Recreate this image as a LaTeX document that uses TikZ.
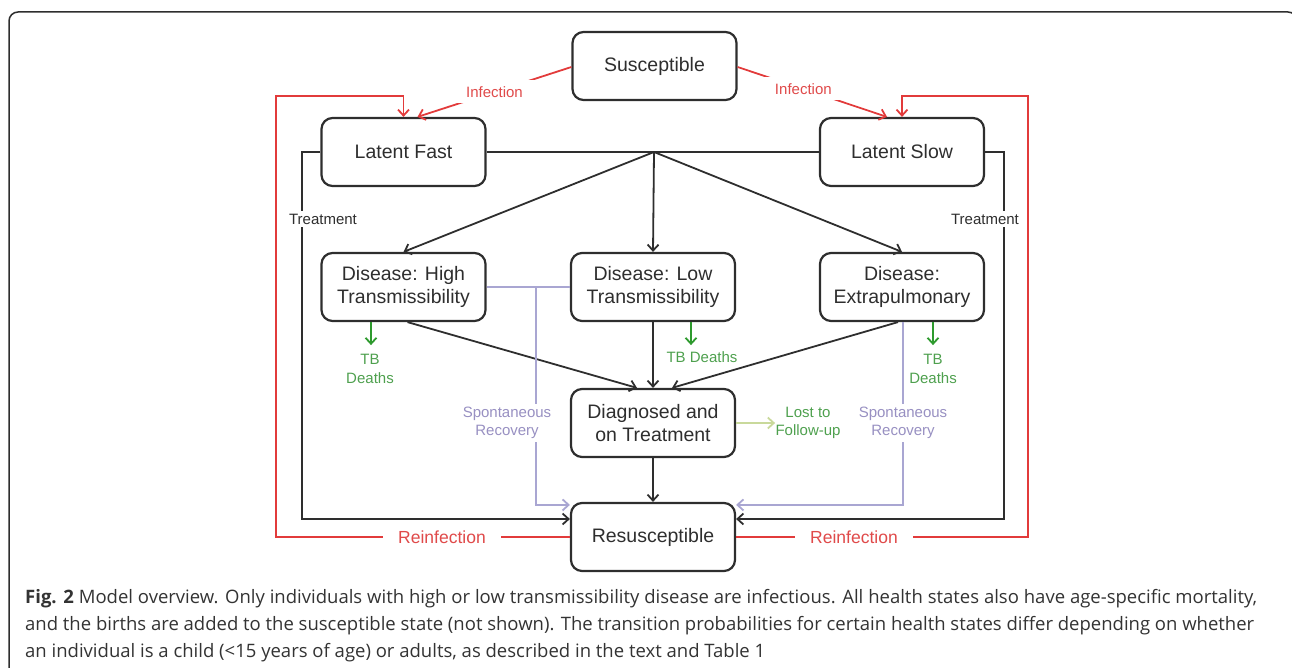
\documentclass[tikz,border=0pt]{standalone}
\usepackage{fontspec}
\setmainfont{Liberation Sans}
\newfontfamily\capf{Open Sans}
\usetikzlibrary{arrows.meta}
\definecolor{lk}{HTML}{2E2E2E}
\definecolor{rd}{HTML}{E23B3B}
\definecolor{rdt}{HTML}{E04A4A}
\definecolor{gr}{HTML}{2E9A2E}
\definecolor{grt}{HTML}{4EA04E}
\definecolor{pu}{HTML}{A9A6D2}
\definecolor{put}{HTML}{9890C2}
\definecolor{lfu}{HTML}{C9D99B}
\definecolor{capc}{HTML}{333333}
\newsavebox\capboxc
\newcommand\capsize{\capf\fontsize{18.5}{20}\selectfont}
\begin{document}
\begin{tikzpicture}[x=1pt,y=-1pt,
  state/.style={draw=lk, line width=2.2pt, rounded corners=11pt, minimum width=164pt,
    minimum height=68pt, align=center, text=lk, inner sep=2pt,
    font=\fontsize{19.5}{23.5}\selectfont},
  tip/.style={-{Straight Barb[length=6pt,width=11pt]}},
  conn/.style={draw=lk, line width=1.8pt},
  red line/.style={draw=rd, line width=1.8pt},
  death/.style={draw=gr, line width=1.8pt, tip},
  spont/.style={draw=pu, line width=1.8pt},
  lost/.style={draw=lfu, line width=1.8pt, tip},
  lab/.style={font=\fontsize{15}{18.5}\selectfont, align=center, inner sep=3pt},
  wlab/.style={lab, fill=white},
  capline/.style={anchor=base west, inner sep=0pt, text=capc},
]
\useasboundingbox (0,0) rectangle (1292,668);
% frame
\draw[lk, line width=1.5pt, rounded corners=9pt] (9,680) -- (9,12) -- (1297,12) -- (1297,680);

% states
\node[state] (SU) at (654.5,66) {Susceptible};
\node[state] (LF) at (403.5,152) {Latent Fast};
\node[state] (LS) at (902,152) {Latent Slow};
\node[state] (DH) at (403.5,287) {Disease: High\\Transmissibility};
\node[state] (DL) at (653,287) {Disease: Low\\Transmissibility};
\node[state] (DE) at (902,287) {Disease:\\Extrapulmonary};
\node[state] (DG) at (653,423) {Diagnosed and\\on Treatment};
\node[state] (RS) at (653,537) {Resusceptible};

\coordinate (J) at (654,152);
\coordinate (TLx) at (302,152);
\coordinate (TRx) at (1004,152);
\coordinate (RLx) at (276,96);
\coordinate (RRx) at (1028,96);
\coordinate (SPL) at (536,287);
\coordinate (SPR) at ([xshift=1pt]DE.south);

% progression
\draw[conn] (LF.east) -- (LS.west);
\draw[conn,tip] (J) -- (DH.north);
\draw[conn,tip] (J) -- (DL.north);
\draw[conn,tip] (J) -- (DE.north);
\draw[conn,tip] ([xshift=4pt]DH.south) -- ([xshift=-16pt]DG.north);
\draw[conn,tip] (DL.south) -- (DG.north);
\draw[conn,tip] ([xshift=-4pt]DE.south) -- ([xshift=19pt]DG.north);
\draw[conn,tip] (DG.south) -- (RS.north);

% treatment
\draw[conn,tip] (LF.west) -- (TLx) |- ([yshift=18pt]RS.west);
\draw[conn,tip] (LS.east) -- (TRx) |- ([yshift=18pt]RS.east);
\node[wlab, text=lk] (TL) at (323,219) {Treatment};
\node[wlab, text=lk] (TR) at (985,219) {Treatment};

% reinfection
\draw[red line,tip] (RS.west) -| (RLx) -| (LF.north);
\draw[red line,tip] (RS.east) -| (RRx) -| (LS.north);
\node[wlab, text=rdt, font=\fontsize{17.5}{20}\selectfont, inner xsep=15pt] (RFL) at (442,537) {Reinfection};
\node[wlab, text=rdt, font=\fontsize{17.5}{20}\selectfont, inner xsep=15pt] (RFR) at (854,537) {Reinfection};

% infection
\draw[red line,tip] ([yshift=-1pt]SU.west) -- node[wlab, text=rdt, pos=0.5, inner xsep=14pt, inner ysep=6pt] (INL) {Infection} ([xshift=14pt]LF.north);
\draw[red line,tip] ([yshift=-1pt]SU.east) -- node[wlab, text=rdt, pos=0.44, inner xsep=14pt, inner ysep=6pt] (INR) {Infection} ([xshift=-15pt]LS.north);

% TB deaths
\draw[death] ([xshift=-32.5pt]DH.south) -- ++(0,23) coordinate (TD1);
\draw[death] ([xshift=38pt]DL.south) -- ++(0,23) coordinate (TD2);
\draw[death] ([xshift=31pt]DE.south) -- ++(0,23) coordinate (TD3);
\node[lab, text=grt] (TDL1) at (370,369) {TB\\Deaths};
\node[lab, text=grt] (TDL2) at (702,357) {TB Deaths};
\node[lab, text=grt] (TDL3) at (933,369) {TB\\Deaths};

% spontaneous recovery
\draw[spont] (DH.east) -- (DL.west);
\draw[spont,tip] (SPL) |- ([yshift=-3pt]RS.north west);
\draw[spont,tip] (SPR) |- ([yshift=-3pt]RS.north east);
\node[wlab, text=put] (SRL) at (507,423) {Spontaneous\\Recovery};
\node[wlab, text=put] (SRR) at (903,423) {Spontaneous\\Recovery};

% lost to follow-up
\draw[lost] (DG.east) -- ++(39,0) coordinate (LFU);
\node[lab, text=grt] (LFUL) at (808,423) {Lost to\\Follow-up};

% caption
\node[capline] (CAP3) at (25,657) {%
  \sbox\capboxc{\capsize an individual is a child (<15 years of age) or adults, as described in the text and Table 1}%
  \pgfmathsetmacro\sxc{740/\the\wd\capboxc}\global\let\sxglob\sxc
  \scalebox{\sxc}[1]{\usebox\capboxc}};
\node[capline] (CAP1) at (25,603) {%
  \pgfmathsetmacro\wfull{1232/\sxglob}%
  \scalebox{\sxglob}[1]{\capsize\makebox[\wfull pt][s]{{\bfseries Fig. 2} Model overview. Only individuals with high or low transmissibility disease are infectious. All health states also have age-specific mortality,}}};
\node[capline] (CAP2) at (25,630) {%
  \pgfmathsetmacro\wfull{1229/\sxglob}%
  \scalebox{\sxglob}[1]{\capsize\makebox[\wfull pt][s]{and the births are added to the susceptible state (not shown). The transition probabilities for certain health states differ depending on whether}}};
\end{tikzpicture}
\end{document}
